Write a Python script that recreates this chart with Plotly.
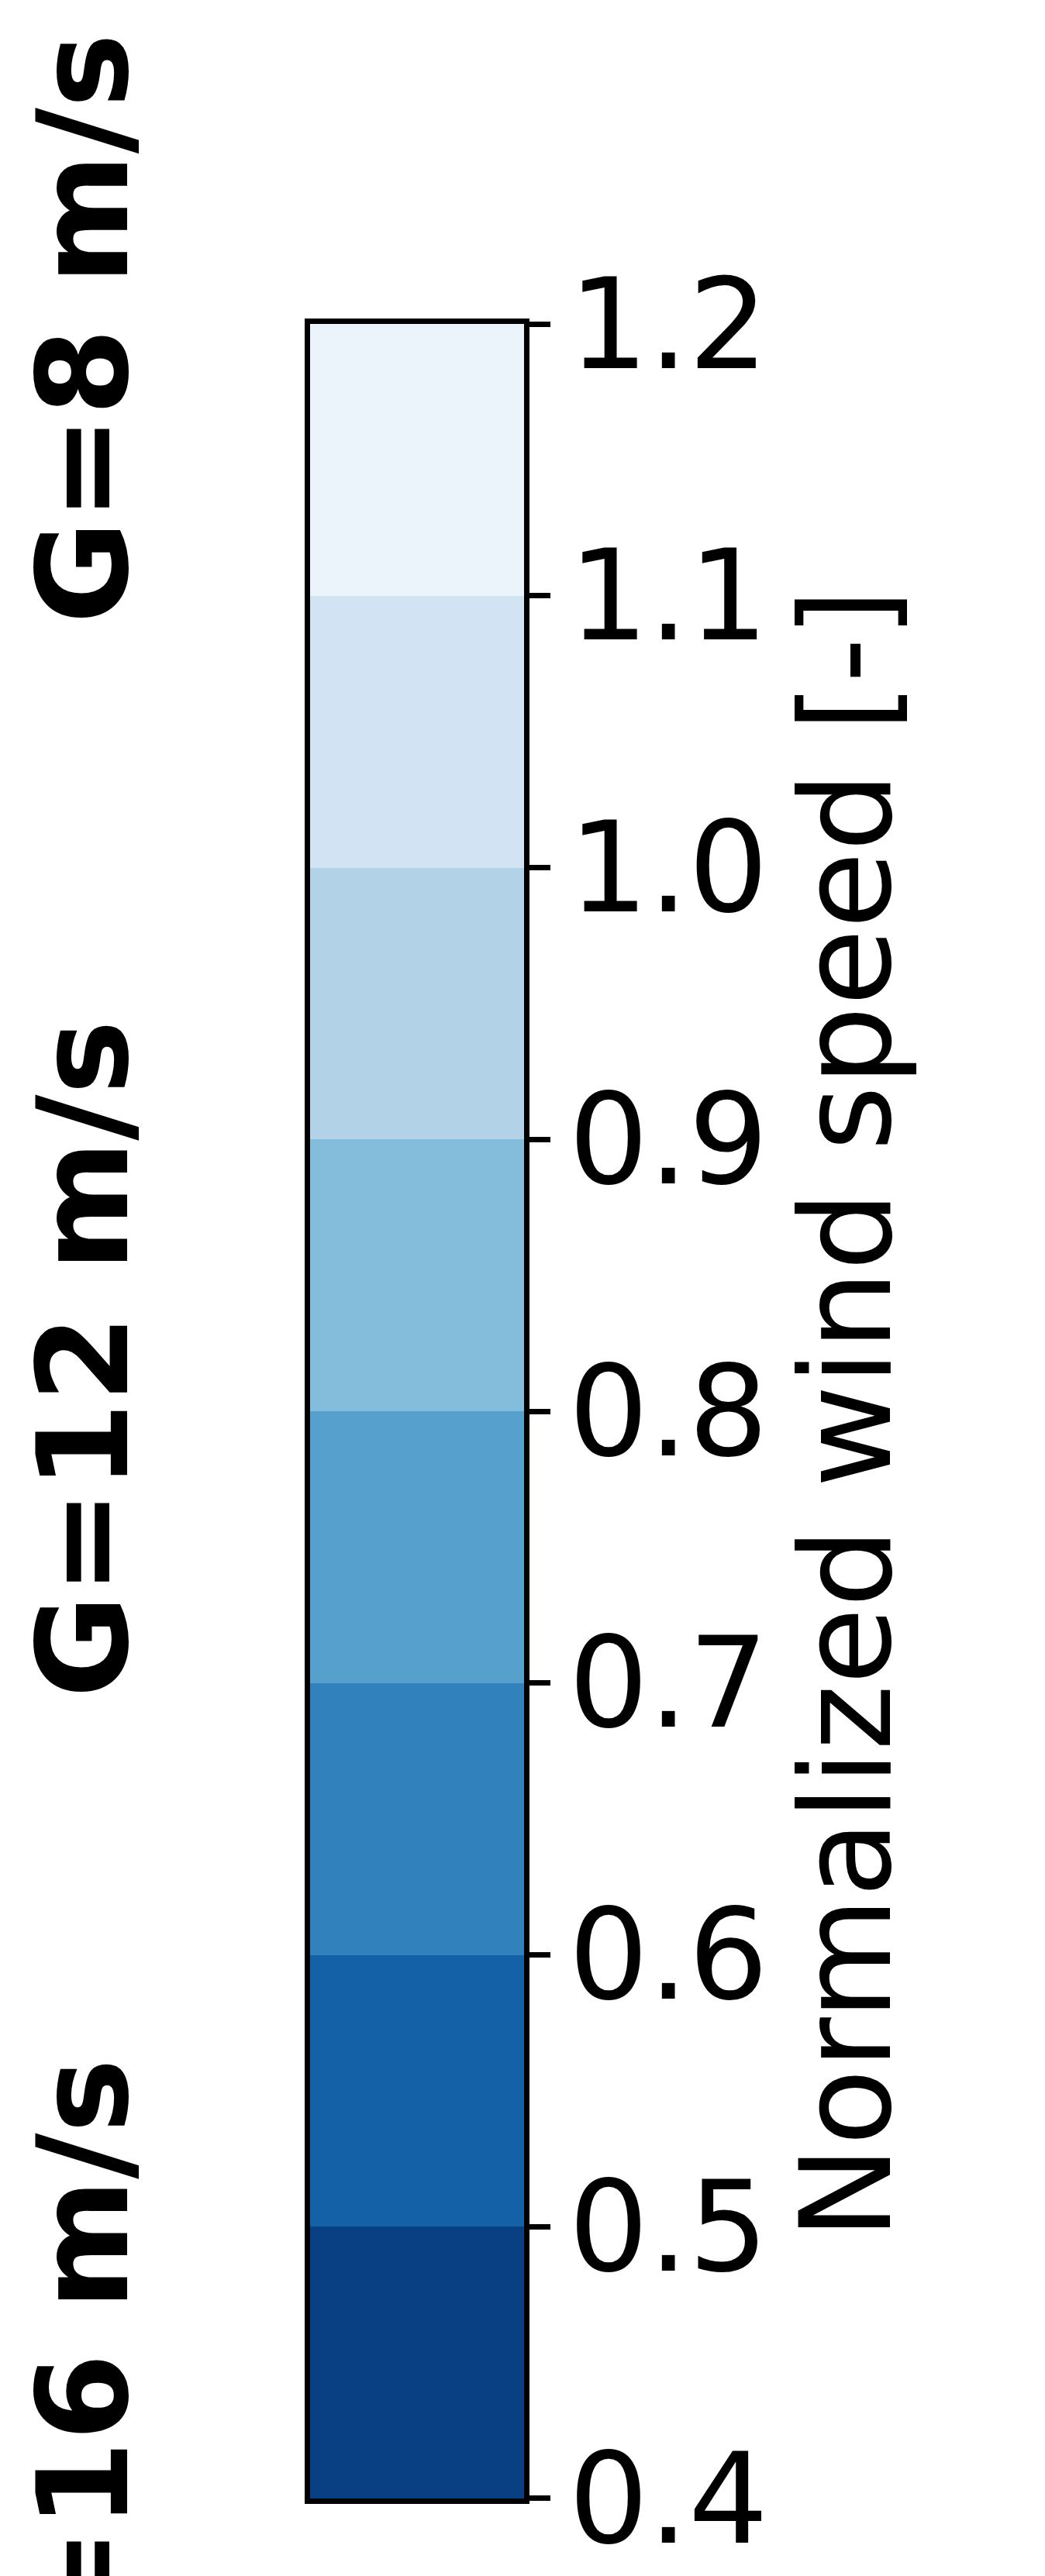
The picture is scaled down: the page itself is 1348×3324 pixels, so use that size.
import plotly.graph_objects as go

W, H = 1348, 3324

# ---- data ----
levels = [0.4, 0.5, 0.6, 0.7, 0.8, 0.9, 1.0, 1.1, 1.2]
band_colors = ["#084083", "#1461a8", "#3181bd", "#56a0ce",
               "#84bcdb", "#b2d2e8", "#d2e3f3", "#ebf3fb"]
tick_labels = ["0.4", "0.5", "0.6", "0.7", "0.8", "0.9", "1.0", "1.1", "1.2"]
row_labels = ["G=8 m/s", "G=12 m/s", "G=16 m/s"]
cbar_title = "Normalized wind speed [-]"

mids = [(a + b) / 2 for a, b in zip(levels[:-1], levels[1:])]
n = len(band_colors)
colorscale = []
for i, c in enumerate(band_colors):
    colorscale.append([i / n, c])
    colorscale.append([(i + 1) / n, c])

fig = go.Figure()
fig.add_trace(go.Heatmap(
    x=[0], y=mids, z=[[i] for i in range(n)],
    zmin=-0.5, zmax=n - 0.5, colorscale=colorscale,
    showscale=False, hoverinfo="skip",
))

def px_x(p):
    return p / W

def px_y(p):
    return 1 - p / H

font_main = "DejaVu Sans"
fs = 162

fig.update_layout(
    width=W, height=H,
    margin=dict(l=0, r=0, t=0, b=0, autoexpand=False),
    paper_bgcolor="white", plot_bgcolor="white",
    showlegend=False,
    xaxis=dict(domain=[px_x(400), px_x(676)], range=[-0.5, 0.5],
               showticklabels=False, ticks="", showgrid=False, zeroline=False,
               showline=True, mirror=True, linecolor="black", linewidth=7,
               automargin=False, fixedrange=True),
    yaxis=dict(domain=[px_y(3224), px_y(418)], range=[0.39999, 1.20001],
               side="right", tickvals=levels, ticktext=tick_labels,
               ticks="outside", ticklen=27, tickwidth=7, tickcolor="black",
               tickfont=dict(family=font_main, size=fs, color="black"),
               ticklabelstandoff=-9,
               showgrid=False, zeroline=False,
               showline=True, mirror=True, linecolor="black", linewidth=7,
               automargin=False, fixedrange=True),
)

# colorbar title
fig.add_annotation(
    text=cbar_title, textangle=-90, showarrow=False,
    xref="paper", yref="paper", x=px_x(1092), y=px_y(1825),
    xanchor="center", yanchor="middle",
    font=dict(family=font_main, size=fs, color="black"),
)

# row labels (partially outside the visible canvas)
row_centers = [424, 1754, 3094]
for lab, cy in zip(row_labels, row_centers):
    fig.add_annotation(
        text="<b>" + lab + "</b>", textangle=-90, showarrow=False,
        xref="paper", yref="paper", x=px_x(108), y=px_y(cy),
        xanchor="center", yanchor="middle",
        font=dict(family=font_main, size=fs, color="black"),
    )

fig.write_html("out.html")
